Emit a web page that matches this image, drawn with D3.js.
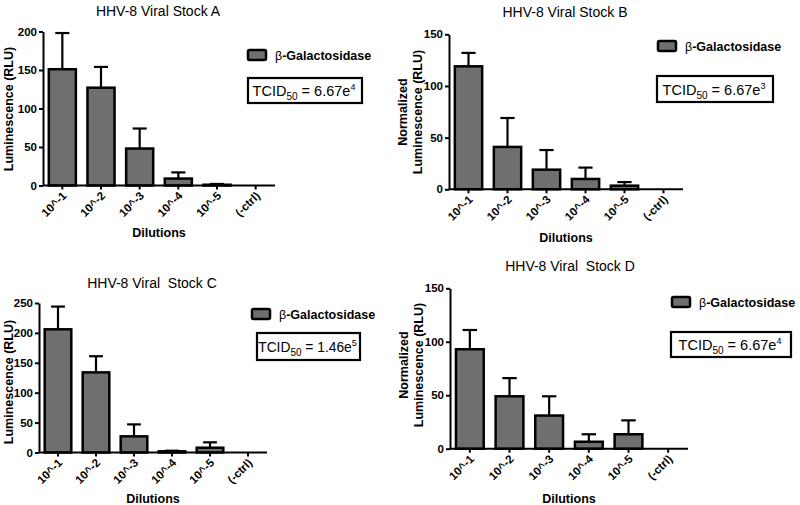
<!DOCTYPE html>
<html>
<head>
<meta charset="utf-8">
<script src="https://cdn.jsdelivr.net/npm/d3@7"></script>
<style>
  html, body { margin: 0; padding: 0; background: #fff; }
  svg { display: block; }
  text { font-family: "Liberation Sans", Arial, Helvetica, sans-serif; }
</style>
</head>
<body>
<svg id="chart" width="800" height="505"></svg>
<script>
// ---- data ----
const categories = ["10^-1", "10^-2", "10^-3", "10^-4", "10^-5", "(-ctrl)"];
const valuesA = [151, 127, 48, 9, 1, 0];
const errorsA = [47, 27, 26, 8, 1, 0];
const valuesB = [119, 41, 19, 10, 3.5, 0];
const errorsB = [13, 28, 19, 11, 3.5, 0];
const valuesC = [206, 134, 27, 2, 8, 0];
const errorsC = [38, 27, 20, 1, 9, 0];
const valuesD = [93, 49, 31, 6.5, 13.5, 0];
const errorsD = [18, 17, 18, 7, 13, 0];
const yTicksA = [0, 50, 100, 150, 200];
const yTicksB = [0, 50, 100, 150];
const yTicksC = [0, 50, 100, 150, 200, 250];
const yTicksD = [0, 50, 100, 150];
const titles = ["HHV-8 Viral Stock A", "HHV-8 Viral Stock B", "HHV-8 Viral  Stock C", "HHV-8 Viral  Stock D"];
const tcidMantissa = ["6.67", "6.67", "1.46", "6.67"];
const tcidExponent = ["4", "3", "5", "4"];
const legendLabel = "-Galactosidase";
const xTitle = "Dilutions";

// ---- layout ----
const panels = [
  { values: valuesA, errors: errorsA, ticks: yTicksA, title: titles[0], mant: tcidMantissa[0], exp: tcidExponent[0],
    x0: 43, x1: 275, y0: 185.5, y1: 31.5, titleX: 158, titleY: 16, ylab: ["Luminescence (RLU)"], ylabX: [13], ylabY: 109,
    dilY: 237, legX: 248, legY: 50, tcid: [248, 78, 114, 25], tfs: 14.5 },
  { values: valuesB, errors: errorsB, ticks: yTicksB, title: titles[1], mant: tcidMantissa[1], exp: tcidExponent[1],
    x0: 449, x1: 683, y0: 189.3, y1: 34.3, titleX: 565, titleY: 17, ylab: ["Normalized", "Luminescence (RLU)"], ylabX: [407, 422], ylabY: 112,
    dilY: 242, legX: 658, legY: 41, tcid: [657, 76, 116, 26], tfs: 14.5 },
  { values: valuesC, errors: errorsC, ticks: yTicksC, title: titles[2], mant: tcidMantissa[2], exp: tcidExponent[2],
    x0: 39, x1: 267, y0: 452.5, y1: 303, titleX: 152, titleY: 288, ylab: ["Luminescence (RLU)"], ylabX: [13], ylabY: 382,
    dilY: 503, legX: 252, legY: 309, tcid: [257, 333, 103, 27], tfs: 13.8 },
  { values: valuesD, errors: errorsD, ticks: yTicksD, title: titles[3], mant: tcidMantissa[3], exp: tcidExponent[3],
    x0: 450, x1: 688, y0: 448.7, y1: 288.3, titleX: 570, titleY: 271, ylab: ["Normalized", "Luminescence (RLU)"], ylabX: [408, 423], ylabY: 365,
    dilY: 503, legX: 672, legY: 297, tcid: [671, 332, 120, 25], tfs: 14.5 }
];

const svg = d3.select("#chart");
const barFill = "#6f6f6f";

panels.forEach(p => {
  const g = svg.append("g");
  const x = d3.scaleBand().domain(categories).range([p.x0, p.x1]).paddingInner(0.3).paddingOuter(0.15);
  const yMax = p.ticks[p.ticks.length - 1];
  const y = d3.scaleLinear().domain([0, yMax]).range([p.y0, p.y1]);
  const data = categories.map((c, i) => ({ c, v: p.values[i], e: p.errors[i] }));

  // error bars (upper only)
  const eb = g.append("g").attr("stroke", "#000").attr("stroke-width", 2.2).attr("fill", "none");
  data.filter(d => d.v > 0).forEach(d => {
    const cx = x(d.c) + x.bandwidth() / 2;
    const capW = x.bandwidth() * 0.26;
    eb.append("line").attr("x1", cx).attr("x2", cx).attr("y1", y(d.v)).attr("y2", y(d.v + d.e));
    eb.append("line").attr("x1", cx - capW).attr("x2", cx + capW).attr("y1", y(d.v + d.e)).attr("y2", y(d.v + d.e));
  });

  // bars
  g.append("g").selectAll("rect").data(data.filter(d => d.v > 0)).join("rect")
    .attr("x", d => x(d.c))
    .attr("width", x.bandwidth())
    .attr("y", d => y(d.v))
    .attr("height", d => y(0) - y(d.v))
    .attr("fill", barFill)
    .attr("stroke", "#000")
    .attr("stroke-width", 2.5);

  // y axis
  const ya = g.append("g").attr("transform", `translate(${p.x0},0)`)
    .call(d3.axisLeft(y).tickValues(p.ticks).tickSize(4).tickSizeOuter(0).tickPadding(2));
  ya.select(".domain").attr("stroke-width", 2);
  ya.selectAll(".tick line").attr("stroke-width", 2);
  ya.selectAll(".tick text").attr("font-size", 11.5).attr("font-weight", "bold").attr("fill", "#000")
    .style("font-family", '"Liberation Sans", Arial, sans-serif');

  // x axis
  const xa = g.append("g").attr("transform", `translate(0,${p.y0})`)
    .call(d3.axisBottom(x).tickSize(4).tickSizeOuter(0));
  xa.select(".domain").attr("stroke-width", 2).attr("d", `M${p.x0},0H${p.x1}`);
  xa.selectAll(".tick line").attr("stroke-width", 2);
  xa.selectAll(".tick text")
    .attr("font-size", 11.5).attr("font-weight", "bold").attr("fill", "#000")
    .style("font-family", '"Liberation Sans", Arial, sans-serif')
    .attr("text-anchor", "end")
    .attr("dy", null).attr("y", null)
    .attr("transform", "translate(5,11) rotate(-45)");

  // title
  g.append("text").attr("x", p.titleX).attr("y", p.titleY).attr("text-anchor", "middle")
    .attr("font-size", 14).style("white-space", "pre").text(p.title);

  // x title
  g.append("text").attr("x", (p.x0 + p.x1) / 2).attr("y", p.dilY).attr("text-anchor", "middle")
    .attr("font-size", 12.5).attr("font-weight", "bold").text(xTitle);

  // y title
  p.ylab.forEach((t, i) => {
    g.append("text").attr("transform", `translate(${p.ylabX[i]},${p.ylabY}) rotate(-90)`)
      .attr("text-anchor", "middle").attr("font-size", 12.5).attr("font-weight", "bold").text(t);
  });

  // legend
  g.append("rect").attr("x", p.legX).attr("y", p.legY).attr("width", 18).attr("height", 10).attr("rx", 1.5)
    .attr("fill", barFill).attr("stroke", "#000").attr("stroke-width", 2.5);
  const lt = g.append("text").attr("x", p.legX + 27).attr("y", p.legY + 9.5).attr("font-size", 12.5);
  lt.append("tspan").attr("font-weight", "normal").text("β");
  lt.append("tspan").attr("font-weight", "bold").text(legendLabel);

  // TCID box
  const [bx, by, bw, bh] = p.tcid;
  g.append("rect").attr("x", bx).attr("y", by).attr("width", bw).attr("height", bh)
    .attr("fill", "#fff").attr("stroke", "#000").attr("stroke-width", 2.2);
  const tt = g.append("text").attr("x", bx + bw / 2 - 1).attr("y", by + bh / 2 + 5.5).attr("text-anchor", "middle").attr("font-size", p.tfs);
  tt.append("tspan").text("TCID");
  tt.append("tspan").attr("font-size", 10).attr("dy", 4).text("50");
  tt.append("tspan").attr("dy", -4).text(" = " + p.mant + "e");
  tt.append("tspan").attr("font-size", 9).attr("dy", -6).text(p.exp);
});
</script>
</body>
</html>
